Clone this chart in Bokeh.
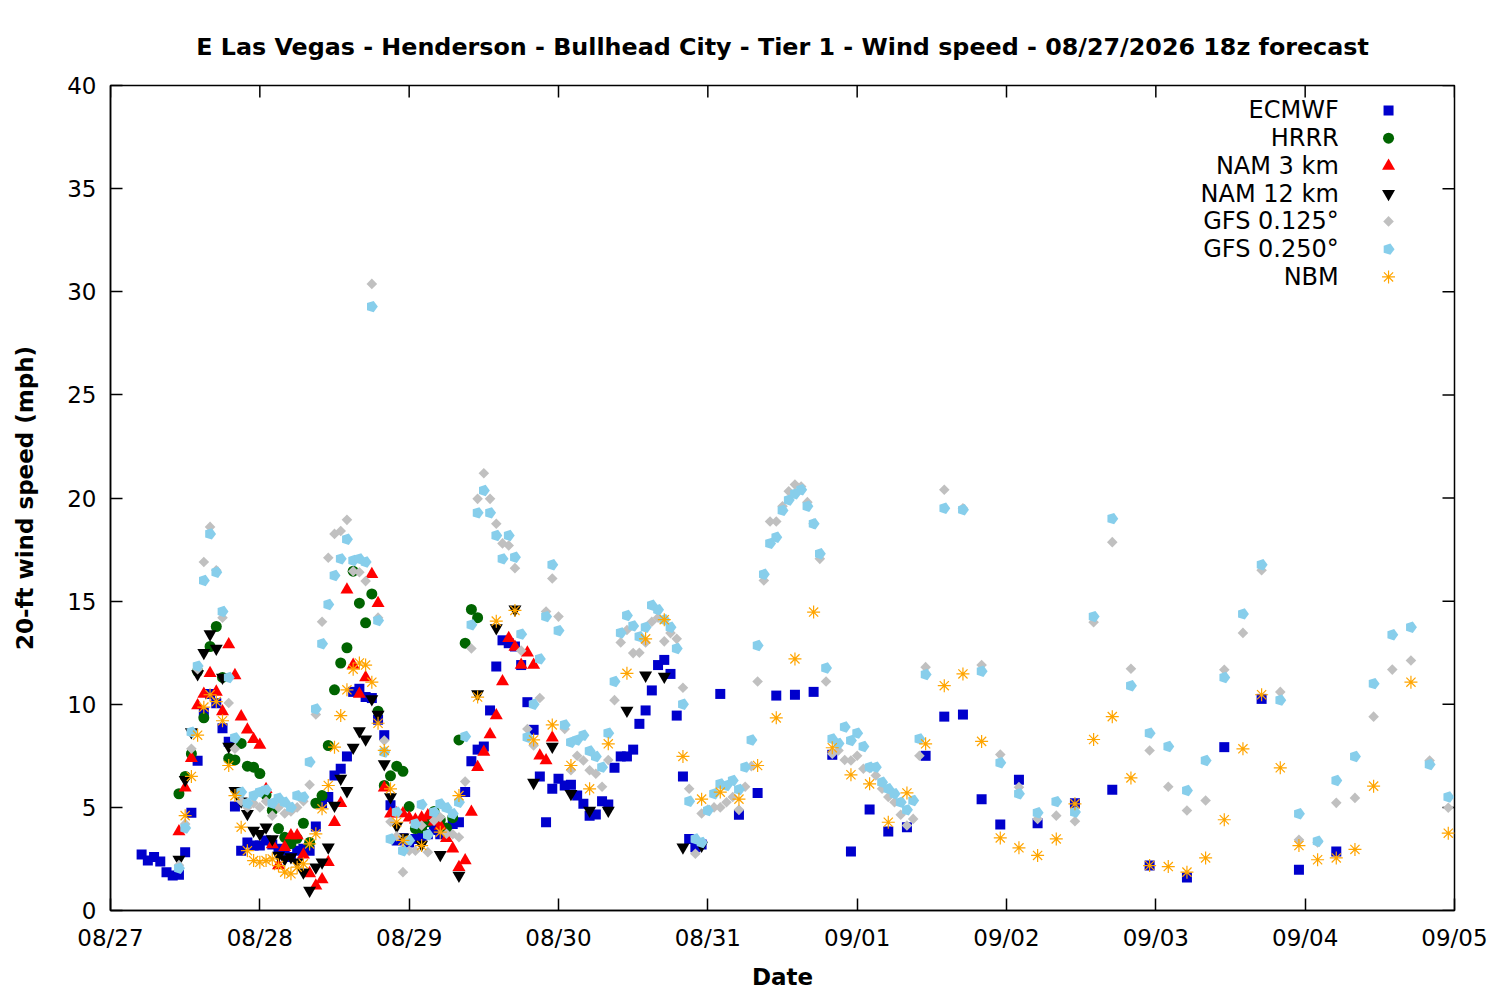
from bokeh.plotting import figure
from bokeh.models import Range1d, FixedTicker
from bokeh.embed import file_html
from bokeh.resources import INLINE
from bokeh.core.properties import value

TITLE = "E Las Vegas - Henderson - Bullhead City - Tier 1 - Wind speed - 08/27/2026 18z forecast"
FONT = "DejaVu Sans"

# x positions are hours after 08/27 00:00 (local)
date_ticks = [0, 24, 48, 72, 96, 120, 144, 168, 192, 216]
date_labels = ["08/27", "08/28", "08/29", "08/30", "08/31", "09/01", "09/02", "09/03", "09/04", "09/05"]
speed_ticks = [0, 5, 10, 15, 20, 25, 30, 35, 40]

# ---------------- ECMWF ----------------
ecmwf_hours = list(range(5, 96)) + list(range(98, 150, 3)) + list(range(155, 198, 6))
ecmwf_speed = [
    2.72, 2.42, 2.60, 2.37, 1.86, 1.70, 1.73, 2.83, 4.74, 7.26,      # h5-14
    9.60, 10.50, 10.05, 8.84, 8.18, 5.04, 2.90, 3.30, 3.15, 3.15,    # h15-24
    3.40, 3.20, 3.00, 2.90, 2.60, 2.90, 3.00, 2.90, 4.07, 5.20,      # h25-34
    5.50, 6.55, 6.87, 7.47, 10.60, 10.75, 10.35, 10.30, 9.25, 8.50,  # h35-44
    5.10, 3.40, 3.50, 3.30, 3.47, 3.60, 3.70, 3.90, 3.70, 4.00,      # h45-54
    4.20, 4.28, 5.74, 7.24, 7.80, 7.95, 9.70, 11.83, 13.10, 12.96,   # h55-64
    12.80, 11.90, 10.10, 8.76, 6.50, 4.28, 5.90, 6.39, 6.06, 6.10,   # h65-74
    5.58, 5.17, 4.60, 4.65, 5.30, 5.14, 6.92, 7.47, 7.47, 7.80,      # h75-84
    9.05, 9.70, 10.67, 11.90, 12.15, 11.47, 9.45, 6.50, 3.47, 3.07,  # h85-94
    3.20,                                                            # h95
    10.50, 4.64, 5.70, 10.42, 10.46, 10.60, 7.55, 2.86, 4.90, 3.83,  # h98-125
    4.04, 7.50, 9.40, 9.50, 5.40, 4.17, 6.34, 4.23,                  # h128-149
    5.20, 5.85, 2.18, 1.60, 7.92, 10.26, 1.97, 2.86,                 # h155-197
]

# ---------------- HRRR ----------------
hrrr_hours = list(range(11, 60))
hrrr_speed = [
    5.66, 6.50, 7.60, 11.60, 9.34, 12.80, 13.77, 11.30, 7.37, 7.30,
    8.10, 7.00, 6.95, 6.64, 5.60, 4.85, 3.97, 3.55, 3.24, 3.50,
    4.23, 3.30, 5.20, 5.57, 8.00, 10.70, 12.00, 12.74, 16.45, 14.90,
    13.95, 15.35, 9.66, 6.06, 6.53, 7.00, 6.75, 5.04, 3.97, 4.00,
    4.30, 4.80, 4.40, 4.00, 4.50, 8.27, 12.96, 14.60, 14.20,
]

# ---------------- NAM 3 km ----------------
nam3_hours = list(range(11, 72))
nam3_speed = [
    3.83, 5.95, 7.38, 9.94, 10.50, 11.50, 10.60, 9.65, 12.90, 11.40,
    9.40, 8.76, 8.30, 8.03, 5.88, 3.20, 2.18, 3.07, 3.64, 3.64,
    2.70, 1.80, 1.20, 1.50, 2.34, 4.28, 5.20, 15.55, 11.90, 10.50,
    11.30, 16.30, 14.90, 5.95, 4.69, 4.70, 4.70, 4.50, 4.40, 4.50,
    4.60, 4.30, 4.10, 3.50, 3.00, 2.10, 2.42, 4.77, 6.95, 7.68,
    8.53, 9.45, 11.10, 13.20, 12.77, 11.90, 12.50, 11.90, 7.50, 7.27,
    8.37,
]

# ---------------- NAM 12 km ----------------
nam12_hours = list(range(11, 48)) + list(range(50, 96, 3))
nam12_speed = [
    2.47, 6.34, 8.65, 11.47, 12.50, 13.40, 12.70, 11.30, 7.95, 5.80,
    5.30, 4.69, 3.88, 3.72, 4.04, 3.47, 2.67, 2.50, 2.59, 2.34,
    1.86, 0.97, 2.10, 2.34, 3.07, 5.09, 6.40, 5.80, 7.90, 8.70,
    8.30, 10.26, 9.50, 7.10, 5.50, 4.10, 3.55,
    3.20, 2.70, 1.70, 10.50, 13.70, 14.60, 6.20, 7.95, 5.66, 4.85,
    4.85, 9.70, 11.40, 11.35, 3.07, 3.15,
]

# ---------------- GFS 0.125 ----------------
gfs125_hours = list(range(11, 131)) + list(range(131, 216, 3))
gfs125_speed = [
    2.20, 4.20, 7.84, 11.70, 16.90, 18.60, 16.50, 14.20, 10.06, 7.84,   # h11-20
    5.30, 5.00, 5.20, 5.00, 5.30, 4.60, 5.00, 4.70, 4.80, 5.00,         # h21-30
    5.30, 6.10, 9.50, 14.00, 17.10, 18.26, 18.40, 18.94, 16.45, 16.40,  # h31-40
    15.97, 30.38, 14.20, 8.24, 4.30, 3.60, 1.86, 2.90, 2.90, 4.12,      # h41-50
    2.83, 4.36, 4.52, 3.72, 3.70, 3.55, 6.25, 12.70, 19.96, 21.20,      # h51-60
    19.96, 18.75, 17.80, 17.70, 16.60, 12.60, 8.80, 8.00, 10.30, 14.50, # h61-70
    16.10, 14.25, 8.80, 6.80, 7.50, 7.27, 6.80, 6.63, 6.00, 7.30,       # h71-80
    10.20, 13.00, 13.60, 12.48, 12.50, 13.00, 14.00, 14.20, 13.05, 13.45,  # h81-90
    13.17, 10.80, 5.90, 2.75, 4.70, 4.90, 5.00, 5.00, 5.25, 5.50,       # h91-100
    4.88, 6.00, 7.00, 11.10, 16.00, 18.86, 18.86, 19.60, 20.33, 20.65,  # h101-110
    20.56, 19.80, 18.75, 17.05, 11.10, 7.60, 7.76, 7.30, 7.27, 7.50,    # h111-120
    6.87, 6.90, 6.55, 5.90, 5.50, 5.25, 4.64, 4.12, 4.44, 7.50,         # h121-130
    11.80, 20.40, 19.50, 11.90, 7.56, 5.98, 4.44, 4.60, 4.33, 13.98,    # h131-158
    17.86, 11.72, 7.76, 6.00, 4.85, 5.33, 11.67, 13.46, 16.50, 10.60,   # h161-188
    3.43, 3.30, 5.22, 5.46, 9.40, 11.68, 12.12, 7.27, 4.98,             # h191-215
]

# ---------------- GFS 0.250 ----------------
gfs250_hours = list(range(11, 131)) + list(range(131, 216, 3))
gfs250_speed = [
    2.05, 4.00, 8.65, 11.85, 16.00, 18.26, 16.40, 14.50, 11.30, 8.37,   # h11-20
    5.74, 5.20, 5.57, 5.74, 5.85, 5.20, 5.45, 5.25, 5.00, 5.57,         # h21-30
    5.50, 7.20, 9.77, 12.93, 14.84, 16.24, 17.05, 18.00, 16.97, 17.05,  # h31-40
    16.90, 29.28, 14.06, 7.68, 3.47, 4.77, 2.90, 3.40, 4.20, 5.14,      # h41-50
    3.67, 4.77, 5.17, 4.98, 4.69, 5.25, 8.44, 13.85, 19.28, 20.36,      # h51-60
    19.28, 18.18, 17.05, 18.18, 17.13, 13.40, 8.40, 10.00, 12.20, 14.25,  # h61-70
    16.76, 13.57, 9.00, 8.16, 8.27, 8.50, 7.73, 7.47, 6.95, 8.60,       # h71-80
    11.10, 13.46, 14.30, 13.80, 13.28, 13.73, 14.80, 14.58, 14.10, 13.73,  # h81-90
    12.70, 10.00, 5.30, 3.47, 3.30, 4.85, 5.66, 6.14, 6.06, 6.30,       # h91-100
    5.87, 6.95, 8.27, 12.85, 16.30, 17.80, 18.10, 19.40, 19.90, 20.20,  # h101-110
    20.40, 19.60, 18.75, 17.30, 11.76, 8.32, 8.10, 8.90, 8.24, 8.60,    # h111-120
    7.95, 6.95, 6.95, 6.22, 5.90, 5.66, 5.25, 4.88, 5.33, 8.32,         # h121-130
    11.44, 19.50, 19.43, 11.60, 7.16, 5.66, 4.74, 5.28, 4.77, 14.25,    # h131-158
    19.00, 10.90, 8.60, 7.95, 5.82, 7.27, 11.30, 14.38, 16.76, 10.20,   # h161-188
    4.69, 3.36, 6.30, 7.47, 11.00, 13.37, 13.73, 7.08, 5.50,            # h191-215
]

# ---------------- NBM ----------------
nbm_hours = list(range(12, 48)) + list(range(50, 204, 3)) + [209, 215]
nbm_speed = [
    4.60, 6.50, 8.50, 9.86, 10.46, 10.13, 9.20, 7.03, 5.57, 4.04,
    2.90, 2.42, 2.34, 2.42, 2.50, 2.18, 1.86, 1.78, 2.10, 2.26,
    3.23, 3.72, 4.93, 6.06, 7.92, 9.45, 10.70, 11.70, 12.00, 11.90,
    11.07, 9.08, 7.76, 5.90, 4.28, 3.40,
    3.15, 3.80, 5.57, 10.35, 14.03, 14.55, 8.27, 9.00, 7.03, 5.90,
    8.08, 11.50, 13.17, 14.10, 7.47, 5.40, 5.74, 5.40, 7.03, 9.34,
    12.20, 14.47, 7.89, 6.58, 6.14, 4.28, 5.70, 8.08, 10.90, 11.47,
    8.20, 3.52, 3.04, 2.67, 3.47, 5.17, 8.29, 9.40, 6.43, 2.18,
    2.13, 1.86, 2.55, 4.40, 7.84, 10.46, 6.92, 3.15, 2.46, 2.55,
    2.96, 6.03, 11.07, 3.75,
]

series_names = ["ECMWF", "HRRR", "NAM 3 km", "NAM 12 km", "GFS 0.125°", "GFS 0.250°", "NBM"]
series_hours = [ecmwf_hours, hrrr_hours, nam3_hours, nam12_hours, gfs125_hours, gfs250_hours, nbm_hours]
series_speed = [ecmwf_speed, hrrr_speed, nam3_speed, nam12_speed, gfs125_speed, gfs250_speed, nbm_speed]

for hrs, spd in zip(series_hours, series_speed):
    assert len(hrs) == len(spd), (len(hrs), len(spd))

# frame: 1344 x 825 px
X_MIN, X_MAX, Y_MIN, Y_MAX = 0, 216, 0, 40
PX_PER_H = 1344 / (X_MAX - X_MIN)
PX_PER_MPH = 825 / (Y_MAX - Y_MIN)
TICK_PX = 12

p = figure(width=1492, height=992, output_backend="svg", toolbar_location=None,
           x_range=Range1d(X_MIN, X_MAX), y_range=Range1d(Y_MIN, Y_MAX),
           min_border_left=110, min_border_right=38, min_border_top=85, min_border_bottom=82)
p.background_fill_color = "white"
p.border_fill_color = "white"
p.outline_line_color = "black"
p.outline_line_width = 1.5
p.grid.visible = False

p.title.text = TITLE
p.title.text_font = FONT
p.title.text_font_size = "23.8px"
p.title.text_font_style = "bold"
p.title.text_color = "black"
p.title.align = "center"
p.title.standoff = 49

for ax in (p.xaxis[0], p.yaxis[0]):
    ax.axis_line_color = "black"
    ax.axis_line_width = 1.5
    ax.major_tick_line_color = "black"
    ax.major_tick_line_width = 1.5
    ax.major_tick_in = TICK_PX
    ax.major_tick_out = 0
    ax.minor_tick_line_color = None
    ax.major_label_text_font = FONT
    ax.major_label_text_color = "black"
    ax.major_label_text_font_size = "23px"
    ax.axis_label_text_font = FONT
    ax.axis_label_text_font_size = "23px"
    ax.axis_label_text_font_style = "bold"
    ax.axis_label_text_color = "black"

p.xaxis.ticker = FixedTicker(ticks=date_ticks)
p.xaxis.major_label_overrides = {t: lab for t, lab in zip(date_ticks, date_labels)}
p.yaxis.ticker = FixedTicker(ticks=speed_ticks)
p.xaxis.major_label_standoff = 14
p.yaxis.major_label_standoff = 14
p.xaxis.axis_label = "Date"
p.yaxis.axis_label = "20-ft wind speed (mph)"
p.xaxis.axis_label_standoff = 10
p.yaxis.axis_label_standoff = 26

# mirrored inward ticks on the top and right edges of the frame
n_x, n_y = len(date_ticks), len(speed_ticks)
p.segment(x0=date_ticks, x1=date_ticks, y0=[Y_MAX] * n_x, y1=[Y_MAX - TICK_PX / PX_PER_MPH] * n_x,
          line_color="black", line_width=1.5)
p.segment(x0=[X_MAX] * n_y, x1=[X_MAX - TICK_PX / PX_PER_H] * n_y, y0=speed_ticks, y1=speed_ticks,
          line_color="black", line_width=1.5)

# legend layout (data units inside the frame)
leg_text_x = 197.4
leg_mark_x = 205.4
leg_top = 38.79
leg_step = 1.345
leg_y = [leg_top - i * leg_step for i in range(len(series_names))]


def draw_pentagons(xs, ys):
    try:
        p.ngon(x=xs, y=ys, radius=6, radius_units="screen", n=5, angle=-1.5708,
               fill_color="#87ceeb", line_color=None)
    except Exception:
        p.scatter(x=xs, y=ys, marker="hex", size=11, fill_color="#87ceeb", line_color=None)


styles = [
    dict(marker="square", size=10, fill_color="#0000cc", line_color=None),
    dict(marker="circle", size=11, fill_color="#006400", line_color=None),
    dict(marker="triangle", size=13, fill_color="#ff0000", line_color=None),
    dict(marker="inverted_triangle", size=13, fill_color="#000000", line_color=None),
    dict(marker="square", size=7.5, angle=0.785398, fill_color="#c0c0c0", line_color=None),
    None,
    dict(marker="asterisk", size=13, line_color="#ffa500", line_width=1.2),
]

for hrs, spd, st, ly in zip(series_hours, series_speed, styles, leg_y):
    if st is None:
        draw_pentagons(hrs, spd)
        draw_pentagons([leg_mark_x], [ly])
    else:
        p.scatter(x=hrs, y=spd, **st)
        p.scatter(x=[leg_mark_x], y=[ly], **st)

p.text(x=[leg_text_x] * len(series_names), y=leg_y, text=series_names,
       text_align="right", text_baseline="middle", text_font=value(FONT),
       text_font_size="24px", text_color="black")

open("out.html", "w").write(file_html(p, INLINE))
